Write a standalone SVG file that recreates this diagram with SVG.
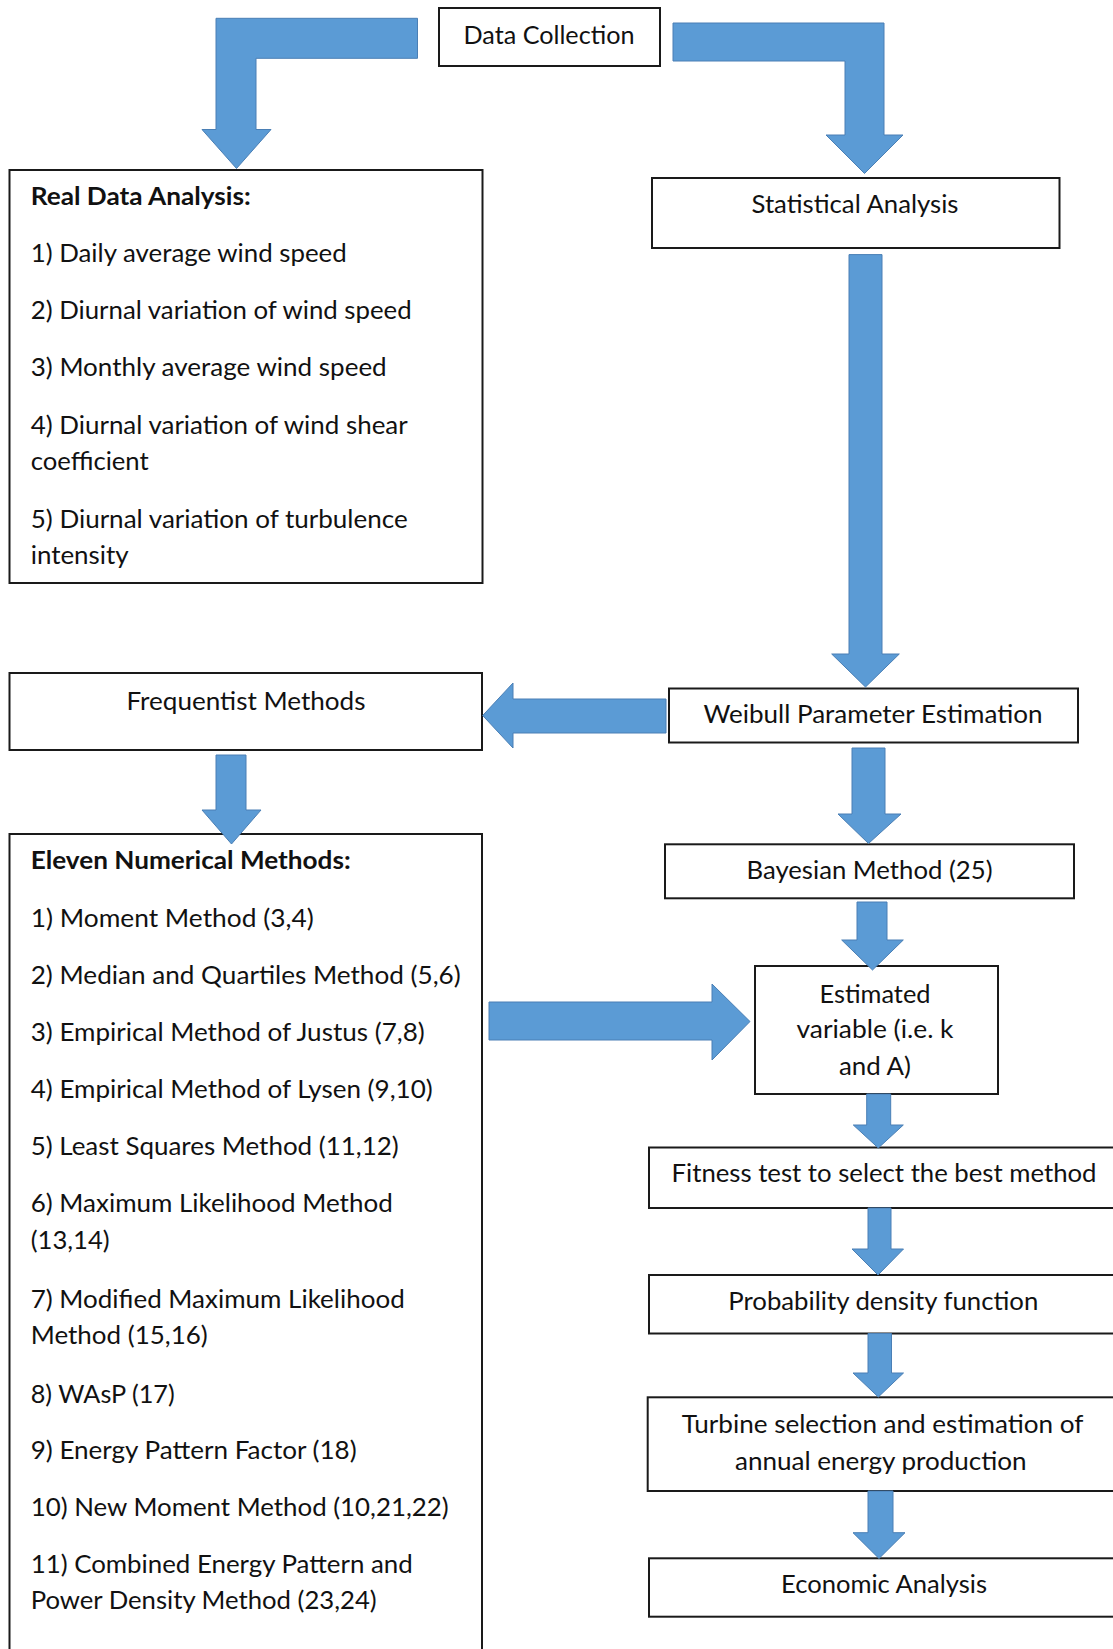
<svg xmlns="http://www.w3.org/2000/svg" width="1113" height="1649" viewBox="0 0 1113 1649">
<style>
.box{fill:#fff;stroke:#1a1a1a;stroke-width:2}
.t{font-family:Lato,"Open Sans","Liberation Sans",sans-serif;font-size:25.5px;fill:#111}
.b{font-weight:bold}
.c{text-anchor:middle}
.arr{fill:#5b9bd5;stroke:#4a7fb5;stroke-width:1;stroke-linejoin:miter}
</style>
<rect width="1113" height="1649" fill="#fff"/>
<g id="nodes">
<g id="data-collection">
<rect class="box" x="439" y="8" width="221" height="58"/>
<text class="t c" x="549" y="44" textLength="171" lengthAdjust="spacingAndGlyphs">Data Collection</text>
</g>
<g id="real-data">
<rect class="box" x="9.5" y="170" width="473" height="413"/>
<text class="t b" x="30.7" y="204.5" textLength="220" lengthAdjust="spacingAndGlyphs">Real Data Analysis:</text>
<text class="t" x="30.7" y="262" textLength="316" lengthAdjust="spacingAndGlyphs">1) Daily average wind speed</text>
<text class="t" x="30.7" y="318.5" textLength="381" lengthAdjust="spacingAndGlyphs">2) Diurnal variation of wind speed</text>
<text class="t" x="30.7" y="376" textLength="356" lengthAdjust="spacingAndGlyphs">3) Monthly average wind speed</text>
<text class="t" x="30.7" y="434" textLength="377" lengthAdjust="spacingAndGlyphs">4) Diurnal variation of wind shear</text>
<text class="t" x="30.7" y="470" textLength="118" lengthAdjust="spacingAndGlyphs">coefficient</text>
<text class="t" x="30.7" y="528" textLength="377" lengthAdjust="spacingAndGlyphs">5) Diurnal variation of turbulence</text>
<text class="t" x="30.7" y="564" textLength="98" lengthAdjust="spacingAndGlyphs">intensity</text>
</g>
<g id="statistical">
<rect class="box" x="652" y="178" width="407.5" height="70"/>
<text class="t c" x="855" y="213" textLength="207" lengthAdjust="spacingAndGlyphs">Statistical Analysis</text>
</g>
<g id="frequentist">
<rect class="box" x="9.5" y="673" width="472.5" height="77"/>
<text class="t c" x="246" y="710" textLength="239" lengthAdjust="spacingAndGlyphs">Frequentist Methods</text>
</g>
<g id="weibull">
<rect class="box" x="669" y="688.5" width="409" height="54"/>
<text class="t c" x="873" y="722.7" textLength="339" lengthAdjust="spacingAndGlyphs">Weibull Parameter Estimation</text>
</g>
<g id="eleven">
<rect class="box" x="9.5" y="834" width="472.5" height="840"/>
<text class="t b" x="30.7" y="869" textLength="320" lengthAdjust="spacingAndGlyphs">Eleven Numerical Methods:</text>
<text class="t" x="30.7" y="926.7" textLength="283" lengthAdjust="spacingAndGlyphs">1) Moment Method (3,4)</text>
<text class="t" x="30.7" y="983.5" textLength="430" lengthAdjust="spacingAndGlyphs">2) Median and Quartiles Method (5,6)</text>
<text class="t" x="30.7" y="1040.7" textLength="394" lengthAdjust="spacingAndGlyphs">3) Empirical Method of Justus (7,8)</text>
<text class="t" x="30.7" y="1098" textLength="402" lengthAdjust="spacingAndGlyphs">4) Empirical Method of Lysen (9,10)</text>
<text class="t" x="30.7" y="1155" textLength="368" lengthAdjust="spacingAndGlyphs">5) Least Squares Method (11,12)</text>
<text class="t" x="30.7" y="1211.5" textLength="362" lengthAdjust="spacingAndGlyphs">6) Maximum Likelihood Method</text>
<text class="t" x="30.7" y="1248.5" textLength="79" lengthAdjust="spacingAndGlyphs">(13,14)</text>
<text class="t" x="30.7" y="1308" textLength="374" lengthAdjust="spacingAndGlyphs">7) Modified Maximum Likelihood</text>
<text class="t" x="30.7" y="1344" textLength="177" lengthAdjust="spacingAndGlyphs">Method (15,16)</text>
<text class="t" x="30.7" y="1402.7" textLength="144" lengthAdjust="spacingAndGlyphs">8) WAsP (17)</text>
<text class="t" x="30.7" y="1458.5" textLength="326" lengthAdjust="spacingAndGlyphs">9) Energy Pattern Factor (18)</text>
<text class="t" x="30.7" y="1516" textLength="418" lengthAdjust="spacingAndGlyphs">10) New Moment Method (10,21,22)</text>
<text class="t" x="30.7" y="1573" textLength="382" lengthAdjust="spacingAndGlyphs">11) Combined Energy Pattern and</text>
<text class="t" x="30.7" y="1609" textLength="346" lengthAdjust="spacingAndGlyphs">Power Density Method (23,24)</text>
</g>
<g id="bayesian">
<rect class="box" x="665" y="844.3" width="409" height="54"/>
<text class="t c" x="869.5" y="879.3" textLength="246" lengthAdjust="spacingAndGlyphs">Bayesian Method (25)</text>
</g>
<g id="estimated">
<rect class="box" x="755" y="966" width="243" height="128"/>
<text class="t c" x="875" y="1002.7" textLength="111" lengthAdjust="spacingAndGlyphs">Estimated</text>
<text class="t c" x="875" y="1038.3" textLength="157" lengthAdjust="spacingAndGlyphs">variable (i.e. k</text>
<text class="t c" x="875" y="1075" textLength="72" lengthAdjust="spacingAndGlyphs">and A)</text>
</g>
<g id="fitness">
<rect class="box" x="649" y="1147.5" width="470" height="60.5"/>
<text class="t c" x="884" y="1181.7" textLength="425" lengthAdjust="spacingAndGlyphs">Fitness test to select the best method</text>
</g>
<g id="pdf">
<rect class="box" x="649" y="1275" width="470" height="58.5"/>
<text class="t c" x="883.3" y="1310" textLength="310" lengthAdjust="spacingAndGlyphs">Probability density function</text>
</g>
<g id="turbine">
<rect class="box" x="647.7" y="1397.3" width="471.3" height="93.7"/>
<text class="t c" x="882.5" y="1433.3" textLength="401.7" lengthAdjust="spacingAndGlyphs">Turbine selection and estimation of</text>
<text class="t c" x="880.8" y="1470" textLength="291.7" lengthAdjust="spacingAndGlyphs">annual energy production</text>
</g>
<g id="economic">
<rect class="box" x="649" y="1558.3" width="470" height="58.4"/>
<text class="t c" x="884" y="1593.3" textLength="206" lengthAdjust="spacingAndGlyphs">Economic Analysis</text>
</g>
</g>
<g id="connectors">
<polygon class="arr" points="417.5,18.3 216,18.3 216,129.5 202,129.5 236.5,168.5 271,129.5 256,129.5 256,58.3 417.5,58.3"/>
<polygon class="arr" points="673,23 884,23 884,135 903,135 864.5,173.5 826,135 845,135 845,61 673,61"/>
<polygon class="arr" points="849,254.6 882,254.6 882,654 899.3,654 865.5,687 831.7,654 849,654"/>
<polygon class="arr" points="666,699 666,733 513,733 513,748 482.7,715.5 513,683 513,699"/>
<polygon class="arr" points="216,755 246,755 246,810 261,810 231.5,844 202,810 216,810"/>
<polygon class="arr" points="852,748 885,748 885,814 901,814 868.5,843.5 838,814 852,814"/>
<polygon class="arr" points="857,902 887,902 887,940 903.3,940 872.5,970 841.7,940 857,940"/>
<polygon class="arr" points="489,1002 712,1002 712,984 750,1021.5 712,1060 712,1040 489,1040"/>
<polygon class="arr" points="866.7,1094 890.7,1094 890.7,1125 903.3,1125 878.3,1148 853.3,1125 866.7,1125"/>
<polygon class="arr" points="868,1208 891,1208 891,1249 903.5,1249 878,1275 852,1249 868,1249"/>
<polygon class="arr" points="868,1333.5 891.5,1333.5 891.5,1373 903.5,1373 878.3,1397 853,1373 868,1373"/>
<polygon class="arr" points="868,1491 893,1491 893,1532.7 905,1532.7 879,1558.5 853,1532.7 868,1532.7"/>
</g>
</svg>
